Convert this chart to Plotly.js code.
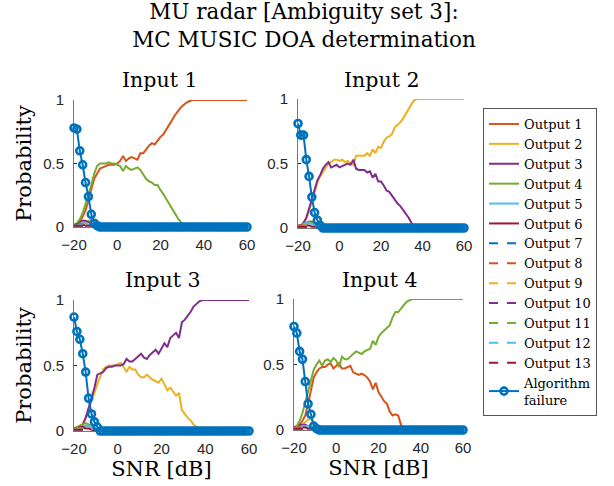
<!DOCTYPE html>
<html>
<head>
<meta charset="utf-8">
<script src="https://cdn.plot.ly/plotly-3.0.1.min.js"></script>
<style>html,body{margin:0;padding:0;background:#fff}#chart{width:614px;height:486px}</style>
</head>
<body>
<div id="chart"></div>
<script>
// ---------- DATA ----------
const snr = [-20,-18.67,-17.33,-16,-14.67,-13.33,-12,-10.67,-9.33,-8,-6.67,-5.33,-4,-2.67,-1.33,0,1.33,2.67,4,5.33,6.67,8,9.33,10.67,12,13.33,14.67,16,17.33,18.67,20,21.33,22.67,24,25.33,26.67,28,29.33,30.67,32,33.33,34.67,36,37.33,38.67,40,41.33,42.67,44,45.33,46.67,48,49.33,50.67,52,53.33,54.67,56,57.33,58.67,60];
const snrTicks = [-20,0,20,40,60];
const probTicks = [0,0.5,1];
const probTickLabels = ['0','0.5','1'];
const outputNames = ['Output 1','Output 2','Output 3','Output 4','Output 5','Output 6','Output 7','Output 8','Output 9','Output 10','Output 11','Output 12','Output 13'];
const failureName = 'Algorithm<br>failure';
const inputTitles = ['Input 1','Input 2','Input 3','Input 4'];
const mainTitle = 'MU radar [Ambiguity set 3]:<br>MC MUSIC DOA determination';
const xTitle = 'SNR [dB]';
const yTitle = 'Probability';

// Input 1
const in1_o1 = [0,0.02,0.04,0.08,0.13,0.21,0.29,0.38,0.42,0.46,0.47,0.48,0.49,0.49,0.49,0.50,0.52,0.56,0.52,0.54,0.55,0.54,0.53,0.58,0.58,0.61,0.64,0.66,0.65,0.68,0.71,0.73,0.77,0.80,0.84,0.88,0.91,0.94,0.96,0.98,0.99,1,1,1,1,1,1,1,1,1,1,1,1,1,1,1,1,1,1,1,1];
const in1_o2 = [0.01,0.02,0.03,0.03,0.04,0.05,0.06,0.04,0.02,0.01,0,0];
const in1_o3 = [0.01,0.02,0.04,0.05,0.05,0.04,0.03,0.02,0.01,0,0,0];
const in1_o4 = [0,0.03,0.06,0.11,0.18,0.25,0.33,0.42,0.48,0.50,0.50,0.50,0.51,0.50,0.50,0.49,0.48,0.44,0.48,0.46,0.45,0.46,0.47,0.45,0.41,0.38,0.36,0.35,0.33,0.33,0.29,0.26,0.22,0.18,0.14,0.10,0.07,0.04,0.02,0.01,0,0,0,0,0,0,0,0,0,0,0,0,0,0,0,0,0,0,0,0,0];
const in1_o5 = [0.01,0.02,0.02,0.03,0.03,0.02,0.02,0.01,0,0,0,0];
const in1_o6 = [0.02,0.02,0.02,0.02,0.01,0.01,0.01,0,0,0,0,0];
const in1_o7 = [0.01,0.01,0.01,0.01,0.01,0.01,0,0,0,0,0,0];
const in1_o8 = [0.01,0.01,0.02,0.02,0.02,0.01,0.01,0,0,0,0,0];
const in1_o9 = [0.01,0.01,0.01,0.02,0.02,0.02,0.01,0.01,0,0,0,0];
const in1_o10 = [0.01,0.02,0.02,0.02,0.01,0.01,0,0,0,0,0,0];
const in1_o11 = [0.01,0.01,0.01,0.01,0.01,0,0,0,0,0,0,0];
const in1_o12 = [0.01,0.01,0.02,0.02,0.01,0.01,0,0,0,0,0,0];
const in1_o13 = [0.01,0.01,0.01,0.01,0.01,0.01,0,0,0,0,0,0];
const in1_fail = [0.78,0.77,0.60,0.49,0.35,0.24,0.10,0.03,0.01,0,0,0,0,0,0,0,0,0,0,0,0,0,0,0,0,0,0,0,0,0,0,0,0,0,0,0,0,0,0,0,0,0,0,0,0,0,0,0,0,0,0,0,0,0,0,0,0,0,0,0,0];

// Input 2
const in2_o1 = [0.01,0.02,0.03,0.04,0.05,0.05,0.04,0.03,0.02,0.01,0,0];
const in2_o2 = [0,0.01,0.03,0.07,0.13,0.21,0.28,0.35,0.40,0.43,0.46,0.50,0.51,0.53,0.53,0.52,0.53,0.51,0.52,0.50,0.49,0.56,0.56,0.56,0.56,0.58,0.56,0.61,0.58,0.63,0.62,0.67,0.70,0.71,0.73,0.78,0.80,0.82,0.85,0.89,0.93,0.96,0.99,1,1,1,1,1,1,1,1,1,1,1,1,1,1,1,1,1,1];
const in2_o3 = [0.01,0.02,0.04,0.08,0.15,0.23,0.31,0.37,0.41,0.46,0.49,0.51,0.47,0.48,0.49,0.47,0.48,0.49,0.50,0.49,0.53,0.46,0.45,0.45,0.45,0.43,0.44,0.39,0.42,0.36,0.36,0.33,0.29,0.28,0.25,0.21,0.19,0.17,0.14,0.11,0.08,0.04,0.01,0,0,0,0,0,0,0,0,0,0,0,0,0,0,0,0,0,0];
const in2_o4 = [0.01,0.02,0.02,0.03,0.04,0.04,0.03,0.02,0.01,0,0,0];
const in2_o5 = [0.01,0.02,0.03,0.04,0.04,0.03,0.02,0.01,0,0,0,0];
const in2_o6 = [0.02,0.02,0.02,0.02,0.02,0.01,0.01,0,0,0,0,0];
const in2_o7 = [0.01,0.01,0.01,0.02,0.01,0.01,0,0,0,0,0,0];
const in2_o8 = [0.01,0.02,0.02,0.02,0.01,0.01,0,0,0,0,0,0];
const in2_o9 = [0.01,0.01,0.02,0.02,0.02,0.01,0.01,0,0,0,0,0];
const in2_o10 = [0.01,0.01,0.01,0.01,0.01,0.01,0,0,0,0,0,0];
const in2_o11 = [0.01,0.01,0.02,0.02,0.01,0,0,0,0,0,0,0];
const in2_o12 = [0.01,0.01,0.01,0.02,0.02,0.01,0,0,0,0,0,0];
const in2_o13 = [0.01,0.01,0.01,0.01,0.01,0,0,0,0,0,0,0];
const in2_fail = [0.81,0.72,0.72,0.53,0.40,0.24,0.12,0.06,0.02,0,0,0,0,0,0,0,0,0,0,0,0,0,0,0,0,0,0,0,0,0,0,0,0,0,0,0,0,0,0,0,0,0,0,0,0,0,0,0,0,0,0,0,0,0,0,0,0,0,0,0,0];

// Input 3
const in3_o1 = [0.01,0.02,0.02,0.03,0.04,0.04,0.03,0.02,0.01,0,0,0];
const in3_o2 = [0,0.01,0.03,0.05,0.10,0.16,0.22,0.29,0.36,0.42,0.47,0.49,0.50,0.50,0.50,0.51,0.52,0.49,0.45,0.49,0.47,0.47,0.43,0.41,0.41,0.43,0.41,0.39,0.38,0.37,0.40,0.35,0.31,0.33,0.30,0.27,0.29,0.16,0.13,0.10,0.08,0.05,0.03,0.01,0,0,0,0,0,0,0,0,0,0,0,0,0,0,0,0,0];
const in3_o3 = [0.01,0.02,0.04,0.05,0.10,0.17,0.25,0.33,0.43,0.44,0.45,0.48,0.49,0.49,0.50,0.50,0.50,0.51,0.55,0.53,0.53,0.55,0.57,0.59,0.56,0.55,0.58,0.60,0.62,0.59,0.63,0.67,0.64,0.71,0.73,0.75,0.71,0.83,0.85,0.88,0.91,0.95,0.97,0.99,1,1,1,1,1,1,1,1,1,1,1,1,1,1,1,1,1];
const in3_o4 = [0.02,0.03,0.04,0.05,0.06,0.05,0.04,0.02,0.01,0,0,0];
const in3_o5 = [0.01,0.02,0.02,0.03,0.04,0.04,0.03,0.01,0,0,0,0];
const in3_o6 = [0.02,0.02,0.03,0.03,0.02,0.02,0.01,0.01,0,0,0,0];
const in3_o7 = [0.01,0.01,0.01,0.01,0.01,0.01,0,0,0,0,0,0];
const in3_o8 = [0.01,0.01,0.02,0.02,0.02,0.01,0,0,0,0,0,0];
const in3_o9 = [0.01,0.02,0.02,0.02,0.01,0.01,0.01,0,0,0,0,0];
const in3_o10 = [0.01,0.01,0.01,0.02,0.01,0.01,0,0,0,0,0,0];
const in3_o11 = [0.01,0.01,0.02,0.02,0.01,0.01,0,0,0,0,0,0];
const in3_o12 = [0.01,0.01,0.01,0.01,0.01,0,0,0,0,0,0,0];
const in3_o13 = [0.01,0.01,0.01,0.01,0.01,0.01,0,0,0,0,0,0];
const in3_fail = [0.87,0.76,0.70,0.59,0.45,0.25,0.13,0.07,0.03,0,0,0,0,0,0,0,0,0,0,0,0,0,0,0,0,0,0,0,0,0,0,0,0,0,0,0,0,0,0,0,0,0,0,0,0,0,0,0,0,0,0,0,0,0,0,0,0,0,0,0,0];

// Input 4
const in4_o1 = [0,0.02,0.04,0.07,0.11,0.20,0.30,0.40,0.44,0.47,0.48,0.48,0.50,0.51,0.47,0.49,0.51,0.47,0.47,0.48,0.49,0.44,0.43,0.42,0.43,0.42,0.40,0.37,0.31,0.36,0.29,0.26,0.22,0.20,0.14,0.11,0.12,0.11,0.04,0,0,0,0,0,0,0,0,0,0,0,0,0,0,0,0,0,0,0,0,0,0];
const in4_o2 = [0.01,0.01,0.02,0.04,0.06,0.08,0.08,0.06,0.03,0.01,0,0];
const in4_o3 = [0.02,0.03,0.04,0.04,0.04,0.03,0.02,0.01,0,0,0,0];
const in4_o4 = [0.01,0.03,0.07,0.13,0.21,0.30,0.38,0.46,0.50,0.53,0.49,0.53,0.54,0.52,0.55,0.53,0.48,0.56,0.54,0.54,0.56,0.58,0.60,0.59,0.58,0.60,0.61,0.62,0.68,0.65,0.71,0.74,0.76,0.78,0.80,0.86,0.90,0.90,0.93,0.96,0.98,0.99,1,1,1,1,1,1,1,1,1,1,1,1,1,1,1,1,1,1,1];
const in4_o5 = [0.01,0.01,0.02,0.03,0.03,0.03,0.02,0.01,0,0,0,0];
const in4_o6 = [0.02,0.02,0.02,0.02,0.02,0.01,0.01,0,0,0,0,0];
const in4_o7 = [0.01,0.01,0.01,0.01,0.01,0,0,0,0,0,0,0];
const in4_o8 = [0.01,0.01,0.02,0.02,0.02,0.01,0.01,0,0,0,0,0];
const in4_o9 = [0.01,0.02,0.02,0.03,0.02,0.01,0,0,0,0,0,0];
const in4_o10 = [0.01,0.01,0.02,0.02,0.01,0.01,0,0,0,0,0,0];
const in4_o11 = [0.01,0.01,0.01,0.01,0.01,0.01,0,0,0,0,0,0];
const in4_o12 = [0.01,0.01,0.01,0.02,0.01,0,0,0,0,0,0,0];
const in4_o13 = [0.01,0.01,0.01,0.01,0.01,0.01,0,0,0,0,0,0];
const in4_fail = [0.79,0.74,0.60,0.54,0.37,0.20,0.12,0.03,0.01,0,0,0,0,0,0,0,0,0,0,0,0,0,0,0,0,0,0,0,0,0,0,0,0,0,0,0,0,0,0,0,0,0,0,0,0,0,0,0,0,0,0,0,0,0,0,0,0,0,0,0,0];

const outputsByInput = [
  [in1_o1,in1_o2,in1_o3,in1_o4,in1_o5,in1_o6,in1_o7,in1_o8,in1_o9,in1_o10,in1_o11,in1_o12,in1_o13],
  [in2_o1,in2_o2,in2_o3,in2_o4,in2_o5,in2_o6,in2_o7,in2_o8,in2_o9,in2_o10,in2_o11,in2_o12,in2_o13],
  [in3_o1,in3_o2,in3_o3,in3_o4,in3_o5,in3_o6,in3_o7,in3_o8,in3_o9,in3_o10,in3_o11,in3_o12,in3_o13],
  [in4_o1,in4_o2,in4_o3,in4_o4,in4_o5,in4_o6,in4_o7,in4_o8,in4_o9,in4_o10,in4_o11,in4_o12,in4_o13]
];
const failureByInput = [in1_fail,in2_fail,in3_fail,in4_fail];

// ---------- STYLE ----------
const outColors = ['#D95319','#EDB120','#7E2F8E','#77AC30','#4DBEEE','#A2142F','#0072BD','#D95319','#EDB120','#7E2F8E','#77AC30','#4DBEEE','#A2142F'];
const outDash = ['solid','solid','solid','solid','solid','solid','dash','dash','dash','dash','dash','dash','dash'];
const failColor = '#0072BD';
const W = 614, H = 486;
// subplot frames in pixels: [left, right, top(y=1), bottom(y=0)]
const frames = [[74,247,100,227],[298,464,99,228],[74,249,300,431],[294,463,299,430]];
const titlePos = [[159,80],[381,80],[162,280],[379,280]];
const serif = 'DejaVu Serif';
const sans = 'Liberation Sans';
const ink = '#262626';

const traces = [];
for (let k = 0; k < 4; k++) {
  const xa = k === 0 ? 'x' : 'x' + (k + 1);
  const ya = k === 0 ? 'y' : 'y' + (k + 1);
  outputsByInput[k].forEach((vals, j) => {
    traces.push({
      type: 'scatter', mode: 'lines', name: outputNames[j],
      x: snr.slice(0, vals.length), y: vals, xaxis: xa, yaxis: ya,
      line: {color: outColors[j], width: 2, dash: outDash[j]},
      showlegend: k === 0, hoverinfo: 'skip', cliponaxis: false
    });
  });
  traces.push({
    type: 'scatter', mode: 'lines+markers', name: failureName,
    x: snr, y: failureByInput[k], xaxis: xa, yaxis: ya,
    line: {color: failColor, width: 2, simplify: false},
    marker: {symbol: 'circle-open', size: 7, color: failColor, line: {width: 2.6, color: failColor}},
    showlegend: k === 0, hoverinfo: 'skip', cliponaxis: false
  });
}

const layout = {
  width: W, height: H,
  margin: {l: 0, r: 0, t: 0, b: 0},
  paper_bgcolor: '#fff', plot_bgcolor: 'rgba(0,0,0,0)',
  showlegend: true,
  title: {
    text: mainTitle, x: 304 / W, xanchor: 'center', xref: 'paper',
    y: 1 - 19 / H, yref: 'container', yanchor: 'top', pad: {t: 0, b: 0},
    font: {family: serif, size: 21.5, color: '#000'}
  },
  legend: {
    x: 483 / W, y: 1 - 108 / H, xanchor: 'left', yanchor: 'top',
    bgcolor: '#fff', bordercolor: '#555', borderwidth: 1,
    font: {family: serif, size: 13, color: '#000'},
    tracegroupgap: 0, itemwidth: 30
  },
  annotations: [],
  font: {family: sans, color: ink}
};

frames.forEach((f, k) => {
  const sx = k === 0 ? '' : String(k + 1);
  layout['xaxis' + sx] = {
    domain: [f[0] / W, f[1] / W], anchor: 'y' + sx, range: [-20, 60],
    tickvals: snrTicks, ticks: 'inside', ticklen: 3, tickcolor: ink,
    showline: true, linecolor: '#777', linewidth: 1, showgrid: false, zeroline: false,
    layer: 'below traces', tickfont: {family: sans, size: 15, color: ink},
    ticklabelstandoff: 4,
    title: k >= 2 ? {text: xTitle, font: {family: serif, size: 21, color: '#000'}, standoff: 3} : {text: ''}
  };
  layout['yaxis' + sx] = {
    domain: [1 - f[3] / H, 1 - f[2] / H], anchor: 'x' + sx, range: [0, 1],
    tickvals: probTicks, ticktext: probTickLabels, ticks: 'inside', ticklen: 3, tickcolor: ink,
    showline: true, linecolor: '#777', linewidth: 1, showgrid: false, zeroline: false,
    layer: 'below traces', tickfont: {family: sans, size: 15, color: ink},
    ticklabelstandoff: 6,
    title: (k === 0 || k === 2) ? {text: yTitle, font: {family: serif, size: 21, color: '#000'}, standoff: 5} : {text: ''}
  };
  layout.annotations.push({
    text: inputTitles[k], xref: 'paper', yref: 'paper',
    x: titlePos[k][0] / W, y: 1 - titlePos[k][1] / H, xanchor: 'center', yanchor: 'middle',
    showarrow: false, font: {family: serif, size: 20.5, color: '#000'}
  });
});

Plotly.newPlot('chart', traces, layout, {displayModeBar: false, staticPlot: true});
</script>
</body>
</html>
